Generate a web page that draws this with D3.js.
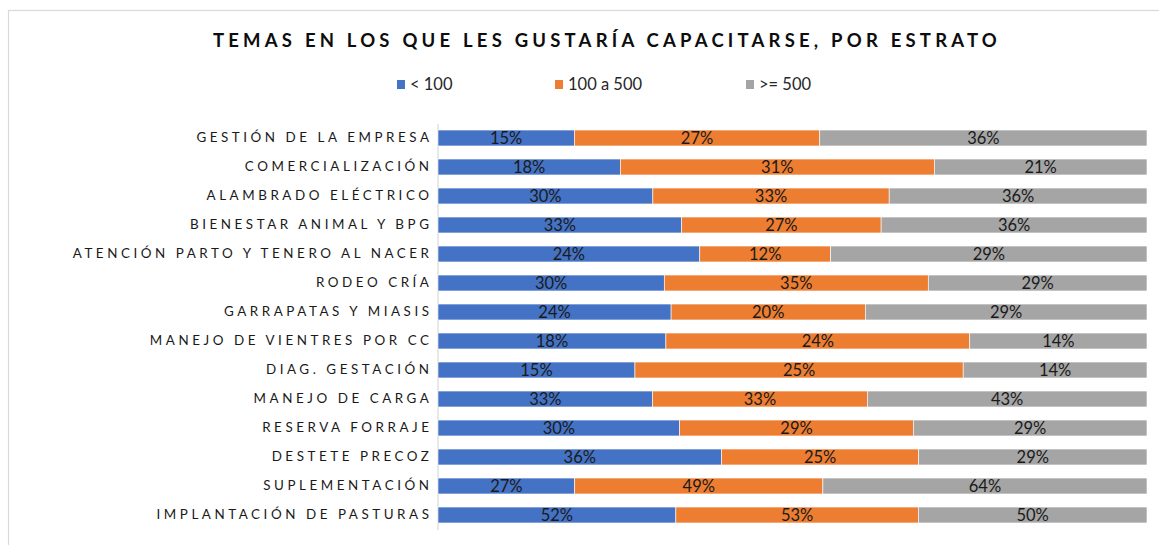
<!DOCTYPE html>
<html>
<head>
<meta charset="utf-8">
<script src="https://cdn.jsdelivr.net/npm/d3@7"></script>
<style>
  html, body { margin: 0; padding: 0; background: #fff; }
  svg { display: block; }
</style>
</head>
<body>
<svg id="chart" width="1159" height="545"></svg>
<script>
// Topics, top to bottom
const categories = [
  "GESTIÓN DE LA EMPRESA",
  "COMERCIALIZACIÓN",
  "ALAMBRADO ELÉCTRICO",
  "BIENESTAR ANIMAL Y BPG",
  "ATENCIÓN PARTO Y TENERO AL NACER",
  "RODEO CRÍA",
  "GARRAPATAS Y MIASIS",
  "MANEJO DE VIENTRES POR CC",
  "DIAG. GESTACIÓN",
  "MANEJO DE CARGA",
  "RESERVA FORRAJE",
  "DESTETE PRECOZ",
  "SUPLEMENTACIÓN",
  "IMPLANTACIÓN DE PASTURAS"
];

// Share of each stratum (%) interested in each topic
const menos100   = [15, 18, 30, 33, 24, 30, 24, 18, 15, 33, 30, 36, 27, 52];
const de100a500  = [27, 31, 33, 27, 12, 35, 20, 24, 25, 33, 29, 25, 49, 53];
const desde500   = [36, 21, 36, 36, 29, 29, 29, 14, 14, 43, 29, 29, 64, 50];

const seriesNames = ["< 100", "100 a 500", ">= 500"];
const seriesColors = ["#4472C4", "#ED7D31", "#A5A5A5"];

const svg = d3.select("#chart");
const W = 1159, H = 545;

// outer chart frame
svg.append("rect")
  .attr("x", 8.5).attr("y", 10.5)
  .attr("width", W + 10).attr("height", H + 10)
  .attr("fill", "none").attr("stroke", "#d9d9d9").attr("stroke-width", 1.2);

// title
svg.append("text")
  .attr("x", 607).attr("y", 47)
  .attr("text-anchor", "middle")
  .attr("font-family", "Lato, 'Open Sans', sans-serif")
  .attr("font-weight", 700)
  .attr("font-size", 18.5)
  .attr("letter-spacing", "4.2px")
  .attr("fill", "#0d0d0d")
  .text("TEMAS EN LOS QUE LES GUSTARÍA CAPACITARSE, POR ESTRATO");

// legend
const legendX = [397, 555, 746];
const legend = svg.append("g");
seriesNames.forEach((name, i) => {
  legend.append("rect")
    .attr("x", legendX[i]).attr("y", 80)
    .attr("width", 8).attr("height", 9)
    .attr("fill", seriesColors[i]);
  legend.append("text")
    .attr("x", legendX[i] + 13).attr("y", 90)
    .attr("font-family", "Lato, 'Open Sans', sans-serif")
    .attr("font-size", 16.5)
    .attr("fill", "#262626")
    .text(name);
});

// stacked data normalised to 100%
const rows = categories.map((c, i) => {
  const vals = [menos100[i], de100a500[i], desde500[i]];
  const total = d3.sum(vals);
  let acc = 0;
  return {
    cat: c,
    segs: vals.map((v, k) => {
      const s = { k, v, x0: acc / total, x1: (acc + v) / total };
      acc += v;
      return s;
    })
  };
});

const x = d3.scaleLinear().domain([0, 1]).range([438, 1147]);
const y = d3.scaleBand().domain(categories).range([123.5, 529.5]).paddingInner(0.45).paddingOuter(0.225);

// category axis
const yAxis = svg.append("g")
  .attr("transform", "translate(437.5,0)")
  .call(d3.axisLeft(y).tickSize(0).tickPadding(5));
yAxis.select(".domain").attr("stroke", "#d9d9d9").attr("stroke-width", 1.2);
yAxis.selectAll("text")
  .attr("font-family", "Lato, 'Open Sans', sans-serif")
  .attr("font-size", 13.4)
  .attr("letter-spacing", "3.55px")
  .attr("fill", "#1a1a1a");

// bars
const rowG = svg.append("g").selectAll("g")
  .data(rows).join("g")
  .attr("transform", d => `translate(0,${y(d.cat)})`);

rowG.selectAll("rect")
  .data(d => d.segs).join("rect")
  .attr("x", d => x(d.x0))
  .attr("width", d => x(d.x1) - x(d.x0))
  .attr("y", 0)
  .attr("height", y.bandwidth())
  .attr("fill", d => seriesColors[d.k])
  .attr("stroke", "#fff").attr("stroke-width", 0.6);

rowG.selectAll("text")
  .data(d => d.segs).join("text")
  .attr("x", d => (x(d.x0) + x(d.x1)) / 2)
  .attr("y", y.bandwidth() / 2 + 6)
  .attr("text-anchor", "middle")
  .attr("font-family", "Lato, 'Open Sans', sans-serif")
  .attr("font-size", 16.5)
  .attr("fill", "#1a1a1a")
  .text(d => d.v + "%");
</script>
</body>
</html>
